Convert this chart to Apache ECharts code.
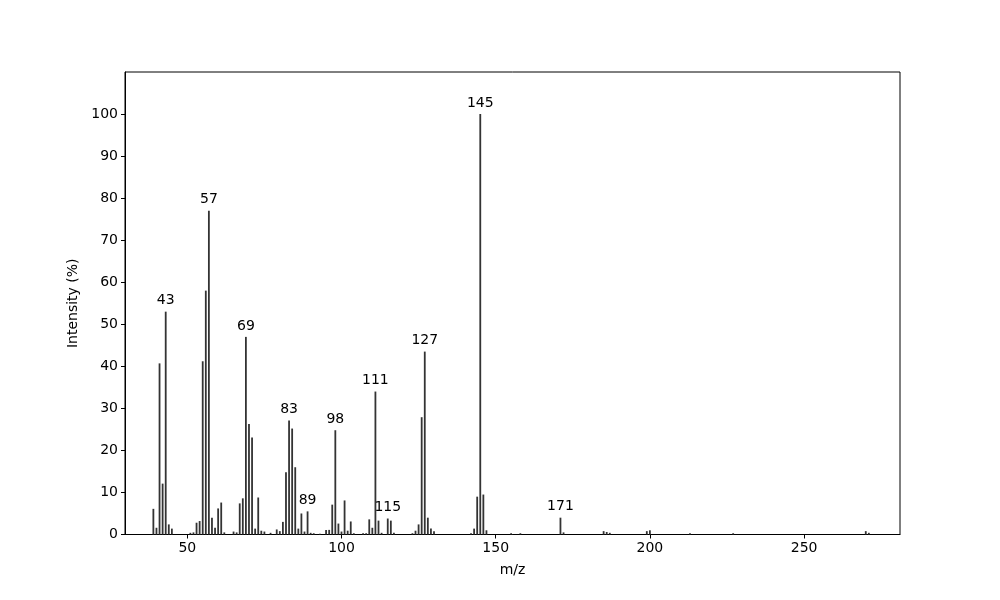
<!DOCTYPE html>
<html>
<head>
<meta charset="utf-8">
<script src="https://cdn.jsdelivr.net/npm/echarts@6/dist/echarts.min.js"></script>
<style>html,body{margin:0;padding:0;background:#fff}#c{width:1000px;height:600px}</style>
</head>
<body>
<div id="c"></div>
<script>
var mz = [39,40,41,42,43,44,45,51,52,53,54,55,56,57,58,59,60,61,62,65,66,67,68,69,70,71,72,73,74,75,77,79,80,81,82,83,84,85,86,87,88,89,90,91,93,95,96,97,98,99,100,101,102,103,104,107,108,109,110,111,112,113,115,116,117,123,124,125,126,127,128,129,130,142,143,144,145,146,147,155,158,171,172,185,186,187,199,200,213,227,270,271];
var intensity = [6.1,1.6,40.7,12.1,53.0,2.4,1.4,0.4,0.5,2.8,3.2,41.2,58.0,77.0,4.0,1.6,6.2,7.6,0.5,0.7,0.5,7.4,8.6,47.0,26.3,23.1,1.4,8.8,0.9,0.7,0.4,1.2,0.8,3.0,14.8,27.1,25.2,16.0,1.4,5.0,0.7,5.5,0.4,0.3,0.2,1.1,1.1,7.1,24.8,2.6,0.7,8.1,0.9,3.1,0.3,0.3,0.3,3.6,1.6,34.0,3.3,0.4,3.8,3.3,0.4,0.3,0.9,2.4,27.9,43.5,4.0,1.4,0.8,0.3,1.4,9.0,100,9.5,1.0,0.3,0.3,4.0,0.5,0.8,0.6,0.4,0.8,1.0,0.3,0.3,0.8,0.4];
var labeledPeaks = [43,57,69,83,89,98,111,115,127,145,171];
var xTicks = [50,100,150,200,250];
var yTicks = [0,10,20,30,40,50,60,70,80,90,100];

var data = mz.map(function(m, i){
  var item = {value:[m, intensity[i]]};
  if (labeledPeaks.indexOf(m) >= 0) {
    item.label = {show:true, position:'top', distance:4, formatter:String(m), color:'#000', fontSize:14, fontFamily:'DejaVu Sans'};
  }
  return item;
});

var chart = echarts.init(document.getElementById('c'));
chart.setOption({
  animation:false,
  textStyle:{fontFamily:'DejaVu Sans'},
  grid:{left:125, right:100, top:72, bottom:65.5, show:true, borderColor:'#000', borderWidth:1, backgroundColor:'transparent'},
  xAxis:{
    type:'value', min:29.8, max:281.1,
    name:'m/z', nameLocation:'middle', nameGap:29,
    nameTextStyle:{color:'#000', fontSize:14, fontFamily:'DejaVu Sans'},
    axisLine:{show:true, onZero:false, lineStyle:{color:'#000', width:1}},
    axisTick:{show:true, length:4, customValues:xTicks, lineStyle:{color:'#000'}},
    axisLabel:{customValues:xTicks, color:'#000', fontSize:14, margin:7, fontFamily:'DejaVu Sans'},
    splitLine:{show:false}
  },
  yAxis:{
    type:'value', min:0, max:110,
    name:'Intensity (%)', nameLocation:'middle', nameGap:43, nameRotate:90,
    nameTextStyle:{color:'#000', fontSize:14, fontFamily:'DejaVu Sans'},
    axisLine:{show:true, lineStyle:{color:'#000', width:1}},
    axisTick:{show:true, length:4, customValues:yTicks, lineStyle:{color:'#000'}},
    axisLabel:{customValues:yTicks, color:'#000', fontSize:14, margin:7, fontFamily:'DejaVu Sans'},
    splitLine:{show:false}
  },
  series:[{
    type:'bar',
    data:data,
    barWidth:1.8,
    itemStyle:{color:'#333'},
    label:{show:false}
  }]
});
</script>
</body>
</html>
